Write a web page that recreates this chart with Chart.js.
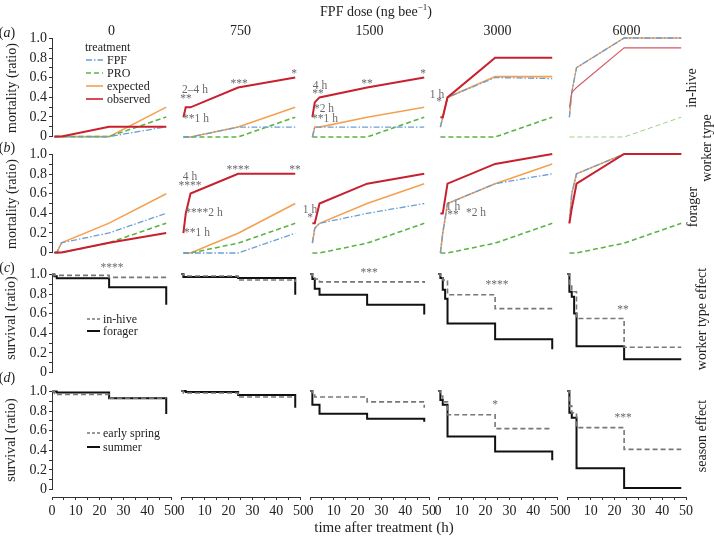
<!DOCTYPE html>
<html><head><meta charset="utf-8">
<script src="https://cdn.jsdelivr.net/npm/chart.js@4.4.1/dist/chart.umd.min.js"></script>
<style>
html,body{margin:0;padding:0;background:#fff}
body{width:714px;height:537px;position:relative;overflow:hidden;font-family:"Liberation Serif","Times New Roman",serif;color:#222}
canvas{position:absolute}
.tx{position:absolute;white-space:nowrap;line-height:1;transform:translate(-50%,-50%)}
.tl{position:absolute;white-space:nowrap;line-height:1;transform:translate(0,-50%)}
svg{position:absolute}
</style></head><body>
<script>
// ---------------- DATA ----------------
const doseLabels = ['0','750','1500','3000','6000'];
const mortTimes = [1,2,4,24,48];
// (a) in-hive mortality, one array per dose
const hiveFPF      = [[0,0,0,0,0.1],[0,0,0,0.1,0.1],[0,0.1,0.1,0.1,0.1],[0.1,0.2,0.4,0.6,0.59],[0.2,0.45,0.7,1.0,1.0]];
const hivePRO      = [[0,0,0,0,0.2],[0,0,0,0,0.2],[0,0,0,0,0.2],[0,0,0,0,0.2],[0,0,0,0,0.2]];
const hiveExpected = [[0,0,0,0,0.3],[0,0,0,0.1,0.3],[0,0.1,0.1,0.2,0.3],[0.1,0.2,0.4,0.61,0.61],[0.2,0.45,0.7,1.0,1.0]];
const hiveObserved = [[0,0,0,0.1,0.1],[0.2,0.3,0.3,0.5,0.6],[0.2,0.35,0.4,0.5,0.6],[0.2,0.2,0.4,0.8,0.8],[0.3,0.45,0.5,0.9,0.9]];
// (b) forager mortality
const forFPF      = [[0,0,0.1,0.2,0.4],[0,0,0,0,0.2],[0.1,0.25,0.3,0.4,0.5],[0,0.2,0.5,0.7,0.8],[0.3,0.6,0.8,1.0,1.0]];
const forPRO      = [[0,0,0,0.1,0.3],[0,0,0,0.1,0.3],[0,0,0,0.1,0.3],[0,0,0,0.1,0.3],[0,0,0,0.1,0.3]];
const forExpected = [[0,0,0.1,0.3,0.6],[0,0,0,0.2,0.5],[0.1,0.25,0.3,0.5,0.7],[0,0.2,0.5,0.7,0.9],[0.3,0.6,0.8,1.0,1.0]];
const forObserved = [[0,0,0,0.1,0.2],[0.2,0.4,0.6,0.8,0.8],[0.3,0.3,0.5,0.7,0.8],[0.4,0.4,0.7,0.9,1.0],[0.3,0.45,0.7,1.0,1.0]];
// (c),(d) survival (value after each time)
const survTimes = [0,1,2,3,4,24,48];
const inhiveSurv  = [[1,0.99,0.99,0.99,0.99,0.97,0.94],[1,0.99,0.98,0.98,0.98,0.94,0.92],[1,0.97,0.95,0.95,0.92,0.92,0.91],[1,0.97,0.94,0.94,0.79,0.65,0.65],[1,0.9,0.82,0.82,0.55,0.26,0.26]];
const foragerSurv = [[1,0.98,0.96,0.96,0.96,0.87,0.69],[1,0.97,0.97,0.97,0.97,0.96,0.79],[1,0.95,0.85,0.85,0.79,0.69,0.59],[1,0.96,0.84,0.75,0.50,0.34,0.24],[1,0.82,0.77,0.60,0.27,0.14,0.14]];
const springSurv  = [[1,0.98,0.97,0.97,0.97,0.93,0.93],[1,0.98,0.98,0.98,0.98,0.94,0.94],[1,0.96,0.94,0.94,0.94,0.89,0.83],[1,0.95,0.89,0.89,0.76,0.62,0.62],[1,0.85,0.78,0.78,0.63,0.41,0.41]];
const summerSurv  = [[1,1.0,0.99,0.99,0.99,0.93,0.77],[1,1.0,0.99,0.99,0.99,0.96,0.83],[1,0.86,0.86,0.86,0.77,0.72,0.69],[1,0.91,0.86,0.86,0.54,0.39,0.30],[1,0.78,0.73,0.73,0.22,0.02,0.02]];

// ---------------- LAYOUT ----------------
const COLX = [52,181,310,438,567], PW = 119;
const ROWY = [38,154,274,391], PH = 99;
const P = 10, AW = 40;
const FONT = '"Liberation Serif", "Times New Roman", serif';
const C = {obs:'#c8202f', exp:'#f4a050', pro:'#5ab443', fpf:'#6b9fd4', hive:'#777', forg:'#111'};

function txt(s, x, y, size, o={}) {
  const d = document.createElement('div');
  d.className = o.left ? 'tl' : 'tx';
  d.innerHTML = s;
  d.style.left = x+'px'; d.style.top = y+'px'; d.style.fontSize = size+'px';
  if (o.rot) d.style.transform = 'translate(-50%,-50%) rotate(-90deg)';
  if (o.color) d.style.color = o.color;
  document.body.appendChild(d);
}
function canvasAt(l,t,w,h){
  const c=document.createElement('canvas');
  c.width=w;c.height=h;c.style.left=l+'px';c.style.top=t+'px';c.style.width=w+'px';c.style.height=h+'px';
  document.body.appendChild(c);return c;
}
function mline(vals,color,width,dash){
  return {data:mortTimes.map((t,i)=>({x:t,y:vals[i]})),borderColor:color,borderWidth:width,borderDash:dash||[],pointRadius:0,tension:0,fill:false,clip:false};
}
function sline(vals,color,width,dash){
  return {data:survTimes.map((t,i)=>({x:t,y:vals[i]})),stepped:'before',borderColor:color,borderWidth:width,borderDash:dash||[],pointRadius:0,fill:false,clip:false};
}
function panel(row,col,datasets){
  const first = col===0;
  const cv = canvasAt(COLX[col]-(first?AW:P), ROWY[row]-P, PW+P+(first?AW:P), PH+2*P);
  const yScale = {type:'linear',min:0,max:1,display:first};
  if (first) Object.assign(yScale,{
    afterFit:s=>{s.width=AW;},
    border:{display:true,color:'#333',width:1},
    grid:{drawOnChartArea:false,drawTicks:true,tickLength:3,color:'#333'},
    ticks:{stepSize:0.1,autoSkip:false,padding:2,color:'#222',font:{family:FONT,size:14},
      callback:v=>{const k=Math.round(v*10);return k%2?'':(k===0?'0':(k/10).toFixed(1));}}
  });
  new Chart(cv,{type:'line',data:{datasets},options:{
    responsive:false,animation:false,events:[],
    layout:{padding:{left:first?0:P,right:P,top:P,bottom:P}},
    plugins:{legend:{display:false},tooltip:{enabled:false}},
    scales:{ x:{type:'linear',min:0,max:50,display:false}, y:yScale }}});
}
function xaxis(col){
  const pl=10;
  const cv=canvasAt(COLX[col]-pl,487,PW+2*pl,34);
  new Chart(cv,{type:'line',data:{datasets:[]},options:{
    responsive:false,animation:false,events:[],
    layout:{padding:{left:pl,right:pl,top:4,bottom:0}},
    plugins:{legend:{display:false},tooltip:{enabled:false}},
    scales:{
      x:{type:'linear',min:0,max:50,position:'bottom',afterFit:s=>{s.height=24;},
         border:{display:true,color:'#333',width:1},
         grid:{drawOnChartArea:false,drawTicks:true,tickLength:3,color:'#333',lineWidth:1},
         ticks:{stepSize:5,autoSkip:false,maxRotation:0,padding:3,color:'#222',font:{family:FONT,size:14},
           callback:v=>(v%10===0?String(v):'')}},
      y:{display:false,min:0,max:1}
    }}});
}

for(let c=0;c<5;c++){
  const thin = c===4;
  panel(0,c,[
    mline(hiveObserved[c], thin?'#d45a66':C.obs, thin?1.1:2),
    mline(hiveFPF[c], C.fpf, 1.3, [6,2,1.5,2]),
    mline(hivePRO[c], thin?'#97d485':C.pro, thin?1:1.6, [5,3]),
    mline(hiveExpected[c], C.exp, thin?1.3:1.6)
  ]);
  panel(1,c,[
    mline(forObserved[c], C.obs, 2),
    mline(forFPF[c], C.fpf, 1.3, [6,2,1.5,2]),
    mline(forPRO[c], C.pro, 1.6, [5,3]),
    mline(forExpected[c], C.exp, 1.6)
  ]);
  panel(2,c,[ sline(inhiveSurv[c], C.hive, 1.6, [5,3]), sline(foragerSurv[c], C.forg, 2) ]);
  panel(3,c,[ sline(springSurv[c], C.hive, 1.6, [5,3]), sline(summerSurv[c], C.forg, 2) ]);
  xaxis(c);
  txt(doseLabels[c], COLX[c]+PW/2, 31, 14);
}

// ---------------- TEXT ----------------
txt('FPF dose (ng bee<sup style="font-size:9px">−1</sup>)', 376, 11, 14);
txt('(<i>a</i>)', 7, 33, 14); txt('(<i>b</i>)', 7, 148, 14);
txt('(<i>c</i>)', 7, 268, 14); txt('(<i>d</i>)', 7, 378, 14);
txt('mortality (ratio)', 12, 88, 14, {rot:1});
txt('mortality (ratio)', 12, 204, 14, {rot:1});
txt('survival (ratio)', 11, 318, 14, {rot:1});
txt('survival (ratio)', 11, 440, 14, {rot:1});
txt('in-hive', 692, 88, 14, {rot:1});
txt('worker type', 707, 148, 14, {rot:1});
txt('forager', 693, 207, 14, {rot:1});
txt('worker type effect', 702, 319, 14, {rot:1});
txt('season effect', 702, 436, 14, {rot:1});
txt('time after treatment (h)', 384, 527, 15);

// annotations [text, centre x, centre y]
const notes = [
 ['2–4 h',195,90],['**',186,99],['**1 h',196,119],['***',239,84],['*',294,74],
 ['4 h',320,86],['**',318,94],['*2 h',324,109],['**1 h',325,119],['**',367,84],['*',423,74],
 ['1 h',437,95],['*',439,102],
 ['4 h',190,177],['****',190,186],['****2 h',204,213],['**1 h',197,233],['****',238,170],['**',295,170],
 ['1 h',310,210],['*',310,218],
 ['1 h',453,207],['**',453,215],['*2 h',476,213],
 ['****',112,268],['***',369,273],['****',497,285],['**',623,310],
 ['*',495,405],['***',623,418]
];
notes.forEach(n=>txt(n[0],n[1],n[2],11.5,{color:'#6a6a6a'}));

// legends
txt('treatment',85,47,12,{left:1});
[['FPF',60],['PRO',73],['expected',86],['observed',99]].forEach(e=>txt(e[0],107,e[1],12,{left:1}));
txt('in-hive',103,319,12,{left:1}); txt('forager',103,331,12,{left:1});
txt('early spring',103,433,12,{left:1}); txt('summer',103,447,12,{left:1});
document.body.insertAdjacentHTML('beforeend',
 '<svg style="left:84px;top:54px" width="20" height="50">'+
 '<line x1="2" y1="6" x2="19" y2="6" stroke="'+C.fpf+'" stroke-width="1.3" stroke-dasharray="6,2,1.5,2"/>'+
 '<line x1="2" y1="19" x2="19" y2="19" stroke="'+C.pro+'" stroke-width="1.4" stroke-dasharray="5,3"/>'+
 '<line x1="2" y1="32" x2="19" y2="32" stroke="'+C.exp+'" stroke-width="1.6"/>'+
 '<line x1="2" y1="45" x2="19" y2="45" stroke="'+C.obs+'" stroke-width="1.6"/></svg>'+
 '<svg style="left:86px;top:313px" width="16" height="24">'+
 '<line x1="1" y1="6" x2="14" y2="6" stroke="#777" stroke-width="1.5" stroke-dasharray="3,2"/>'+
 '<line x1="1" y1="18" x2="14" y2="18" stroke="#111" stroke-width="2"/></svg>'+
 '<svg style="left:86px;top:427px" width="16" height="26">'+
 '<line x1="1" y1="6" x2="14" y2="6" stroke="#777" stroke-width="1.5" stroke-dasharray="3,2"/>'+
 '<line x1="1" y1="20" x2="14" y2="20" stroke="#111" stroke-width="2"/></svg>');
</script></body></html>
